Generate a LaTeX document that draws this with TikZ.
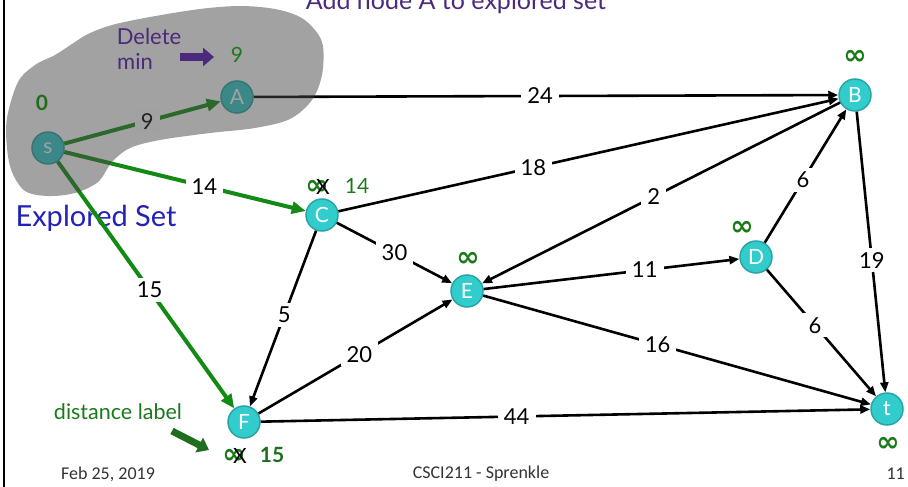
\documentclass[tikz,border=0pt]{standalone}
\usepackage{fontspec}
\setmainfont{Lato}
\newfontfamily\footfont{Carlito}
\newfontfamily\symfont{DejaVu Sans}
\usetikzlibrary{arrows.meta}

\definecolor{nodeteal}{HTML}{33CCCC}
\definecolor{nodeedge}{HTML}{2AA5A5}
\definecolor{pathgreen}{HTML}{138A13}
\definecolor{labelgreen}{HTML}{1A7A1A}
\definecolor{darkgreen}{HTML}{1E6E1E}
\definecolor{notepurple}{HTML}{4B2A7B}
\definecolor{setblue}{HTML}{2222B5}
\definecolor{blobgray}{HTML}{454545}
\definecolor{footgray}{HTML}{333333}

\tikzset{
  vertex/.style={circle, fill=nodeteal, draw=nodeedge, line width=1.5pt,
    minimum size=32pt, inner sep=0pt, text=white, font=\fontsize{21}{21}\selectfont},
  edge/.style={line width=2.6pt, -{Triangle[length=10pt,width=8pt]}},
  tree/.style={pathgreen, line width=4pt, -{Triangle[length=14pt,width=12pt]}},
  wt/.style={fill=white, inner xsep=6pt, inner ysep=4pt, text=black, font=\fontsize{22}{22}\selectfont},
  dist/.style={text=labelgreen, inner sep=0pt, font=\fontsize{21}{21}\selectfont},
  inf/.style={text=labelgreen, inner sep=0pt, font=\symfont\bfseries\fontsize{28}{28}\selectfont},
  strike/.style={text=black, inner sep=0pt, font=\fontsize{21}{21}\selectfont},
  foot/.style={text=footgray, inner sep=0pt, font=\footfont\fontsize{18}{18}\selectfont},
  note/.style={inner sep=0pt, text=notepurple, font=\fontsize{22}{22}\selectfont},
}

\begin{document}
\begin{tikzpicture}[x=1pt,y=-1pt]
\useasboundingbox (0,0) rectangle (908,487);

% slide frame edge
\draw[line width=2pt] (4,0) -- (4,487);

% caption of the shaded region
\node[text=setblue, inner sep=0pt, font=\fontsize{29}{29}\selectfont] (explored) at (96,218) {Explored Set};

% vertices
\node[vertex] (s) at (48,148) {s};
\node[vertex] (A) at (237,97) {A};
\node[vertex] (B) at (855,95) {B};
\node[vertex] (C) at (322,215) {C};
\node[vertex] (D) at (756,257) {D};
\node[vertex] (E) at (467,291) {E};
\node[vertex] (F) at (244,422) {F};
\node[vertex] (t) at (887,409) {t};

% weighted edges
\draw[edge] (A) -- node[wt,pos=.49]{24} (B);
\draw[edge] (C) -- node[wt,pos=.39]{18} (B);
\draw[edge] (B) -- node[wt,pos=.52]{2} (E);
\draw[edge] (D) -- node[wt,pos=.47]{6} (B);
\draw[edge] (B) -- node[wt,pos=.53]{19} (t);
\draw[edge] (C) -- node[wt,pos=.50]{30} (E);
\draw[edge] (E) -- node[wt,pos=.63]{11} (D);
\draw[edge] (C) -- node[wt,pos=.48]{5} (F);
\draw[edge] (F) -- node[wt,pos=.52]{20} (E);
\draw[edge] (E) -- node[wt,pos=.45]{16} (t);
\draw[edge] (D) -- node[wt,pos=.44]{6} (t);
\draw[edge] (F) -- node[wt,pos=.42]{44} (t);

% edges leaving the source
\draw[tree] (s) -- node[wt,pos=.53]{9} (A);
\draw[tree] (s) -- node[wt,pos=.58]{14} (C);
\draw[tree] (s) -- node[wt,pos=.52]{15} (F);

% explored set region
\fill[blobgray, opacity=0.5] plot[smooth cycle, tension=0.55] coordinates {
  (7,118) (18,82) (35,65) (55,55) (72,44) (88,34) (112,25) (150,17)
  (200,9) (240,6) (275,9) (300,17) (315,30) (323,46) (322,75) (312,100)
  (290,119) (255,128) (210,133) (160,140) (130,148) (112,162) (98,182)
  (75,193) (48,196) (25,191) (12,172) (7,148)};

% distance labels
\node[dist, font=\bfseries\fontsize{21}{21}\selectfont, text=darkgreen] (ds) at (42,103) {0};
\node[dist] (dA) at (237,55) {9};
\node[inf] (dB) at (855,57) {∞};
\node[inf] (dC) at (317,187) {∞};
\node[strike] (xC) at (323,187) {X};
\node[dist] (nC) at (357,186) {14};
\node[inf] (dD) at (742,228) {∞};
\node[inf] (dE) at (468,259) {∞};
\node[inf] (dF) at (234,456) {∞};
\node[strike] (xF) at (240,456) {X};
\node[dist, font=\bfseries\fontsize{21}{21}\selectfont, text=darkgreen] (nF) at (272,455) {15};
\node[inf] (dt) at (888,444) {∞};

% annotations
\node[note, anchor=base, font=\fontsize{25}{25}\selectfont] (title) at (456,10) {Add node A to explored set};
\node[note] (del) at (149,36) {Delete};
\node[note, anchor=west] (mn) at (117,61) {min};
\coordinate (delS) at (180,57);
\coordinate (delE) at (214,57);
\draw[notepurple, line width=8pt, -{Triangle[length=11pt,width=18pt]}] (delS) -- (delE);

\node[text=labelgreen, inner sep=0pt, font=\fontsize{21.5}{21.5}\selectfont] (dlab) at (118,412) {distance label};
\coordinate (dlS) at (172,431);
\coordinate (dlE) at (209,450);
\draw[darkgreen, line width=7pt, -{Triangle[length=11pt,width=16pt]}] (dlS) -- (dlE);

% footer
\node[foot] (date) at (108,474) {Feb 25, 2019};
\node[foot] (course) at (481,474) {CSCI211 - Sprenkle};
\node[foot, anchor=east] (page) at (905,474) {11};
\end{tikzpicture}
\end{document}
